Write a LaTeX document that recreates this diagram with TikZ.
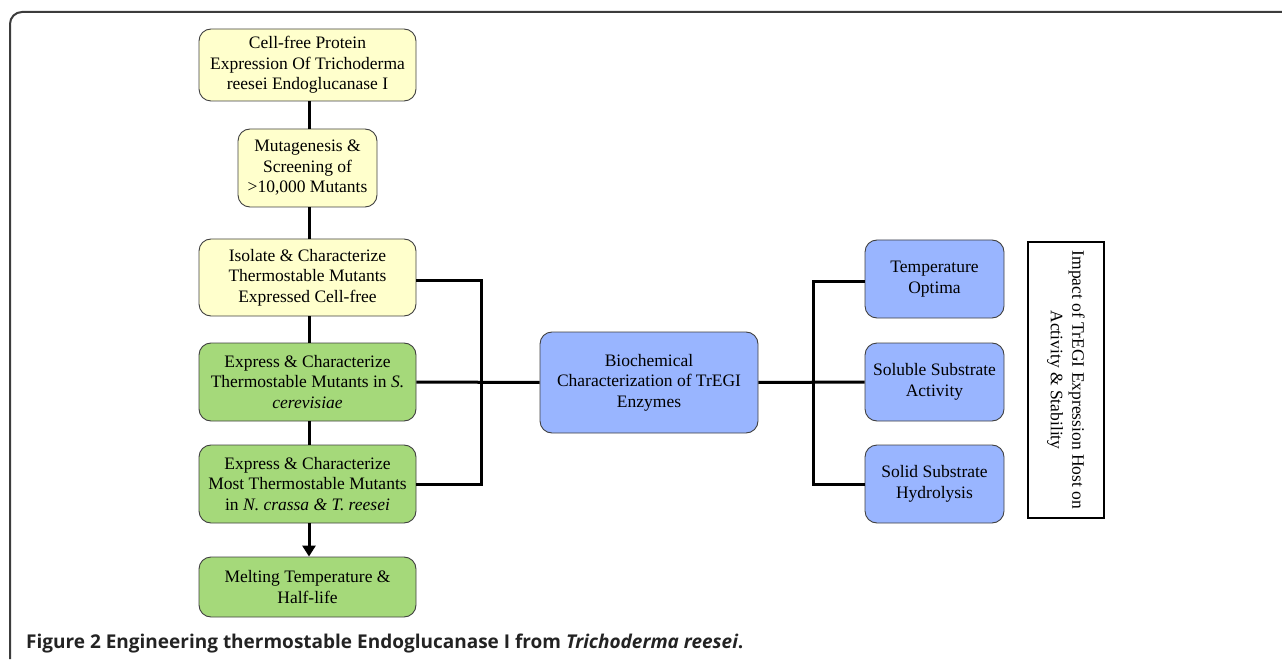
\documentclass[tikz,border=0pt]{standalone}
\usepackage{fontspec}
\setmainfont{Liberation Serif}
\newfontfamily\capfont{Open Sans}
\usetikzlibrary{arrows.meta}
\definecolor{yfill}{RGB}{255,255,204}
\definecolor{gfill}{RGB}{165,217,122}
\definecolor{bfill}{RGB}{153,181,255}
\definecolor{framec}{RGB}{60,60,60}
\definecolor{capc}{RGB}{35,35,35}
\tikzset{
  boxbase/.style={draw=black!75, line width=0.9pt, rounded corners=12pt, align=center,
    inner sep=0pt, font=\fontsize{17.5}{20.5}\selectfont},
  ybox/.style={boxbase, fill=yfill},
  gbox/.style={boxbase, fill=gfill},
  bbox/.style={boxbase, fill=bfill},
  conn/.style={line width=3pt, black},
}
\begin{document}
\begin{tikzpicture}[x=1pt,y=-1pt]
\useasboundingbox (0,0) rectangle (1282,660);
% frame
\draw[framec, line width=2pt, rounded corners=12pt] (10,659) -- (10,12) -- (1283,12);
% left column
\node[ybox, minimum width=217, minimum height=72] (a) at (307.5,65) {Cell-free Protein\\Expression Of Trichoderma\\reesei Endoglucanase I};
\node[ybox, minimum width=139, minimum height=78] (b) at (307.5,168) {Mutagenesis \&\\Screening of\\>10,000 Mutants};
\node[ybox, minimum width=217, minimum height=77] (c) at (307.5,277.5) {Isolate \& Characterize\\Thermostable Mutants\\Expressed Cell-free};
\node[gbox, minimum width=217, minimum height=78] (d) at (307.5,382) {Express \& Characterize\\Thermostable Mutants in \textit{S.}\\\textit{cerevisiae}};
\node[gbox, minimum width=217, minimum height=78] (e) at (307.5,484) {Express \& Characterize\\Most Thermostable Mutants\\in \textit{N. crassa \& T. reesei}};
\node[gbox, minimum width=217, minimum height=60] (f) at (307.5,587) {Melting Temperature \&\\Half-life};
% center
\node[bbox, minimum width=218, minimum height=101] (g) at (649,382.5) {Biochemical\\Characterization of TrEGI\\Enzymes};
% right column
\node[bbox, minimum width=139, minimum height=78] (h) at (934.5,279) {Temperature\\Optima};
\node[bbox, minimum width=139, minimum height=78] (i) at (934.5,382) {Soluble Substrate\\Activity};
\node[bbox, minimum width=139, minimum height=78] (j) at (934.5,484) {Solid Substrate\\Hydrolysis};
\node[draw=black, line width=1.5pt, rotate=-90, align=center, inner sep=0pt,
  minimum width=276, minimum height=76, font=\fontsize{17.5}{21.5}\selectfont] (k) at (1066,380)
  {Impact of TrEGI Expression Host on\\Activity \& Stability};
% connectors
\coordinate (lb) at (481,382);
\coordinate (rb) at (813,383);
\draw[conn] (a.south -| 309,0) -- (b.north -| 309,0);
\draw[conn] (b.south -| 309,0) -- (c.north -| 309,0);
\draw[conn] (c.south -| 309,0) -- (d.north -| 309,0);
\draw[conn] (d.south -| 309,0) -- (e.north -| 309,0);
\draw[conn, -{Triangle[length=11pt,width=13pt]}] (e.south -| 309,0) -- (f.north -| 309,0);
\draw[conn] (c.east |- 0,281) -| (lb |- e.east) -- (e.east);
\draw[conn] (d.east) -- (g.west);
\draw[conn] (g.east) -- (i.west);
\draw[conn] (h.west |- 0,282) -| (rb |- j.west) -- (j.west);
% caption
\node[anchor=base west, inner sep=0pt, text=capc, font=\capfont\fontsize{19}{22}\selectfont\bfseries] (cap) at (26,648)
  {Figure 2 Engineering thermostable Endoglucanase I from \textit{Trichoderma reesei}.};
\end{tikzpicture}
\end{document}
